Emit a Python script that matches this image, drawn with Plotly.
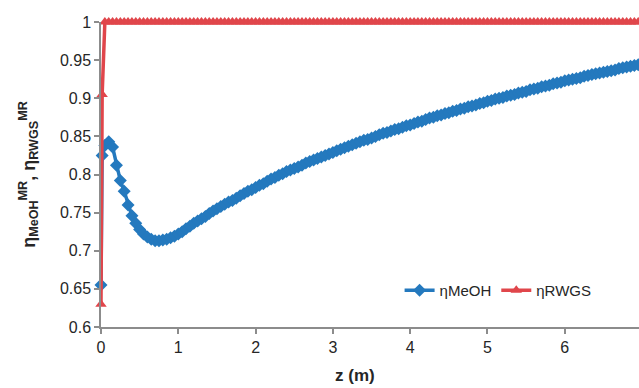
import plotly.graph_objects as go

# ---- data ----
z_m = [0, 0.015, 0.05, 0.10, 0.15, 0.20, 0.25, 0.30, 0.35, 0.40, 0.45,
       0.50, 0.55, 0.60, 0.65, 0.70, 0.75, 0.80, 0.85, 0.90, 0.95,
       1.00, 1.05, 1.10, 1.15, 1.20, 1.25, 1.30, 1.35, 1.40, 1.45,
       1.50, 1.55, 1.60, 1.65, 1.70, 1.75, 1.80, 1.85, 1.90, 1.95,
       2.00, 2.05, 2.10, 2.15, 2.20, 2.25, 2.30, 2.35, 2.40, 2.45,
       2.50, 2.55, 2.60, 2.65, 2.70, 2.75, 2.80, 2.85, 2.90, 2.95,
       3.00, 3.05, 3.10, 3.15, 3.20, 3.25, 3.30, 3.35, 3.40, 3.45,
       3.50, 3.55, 3.60, 3.65, 3.70, 3.75, 3.80, 3.85, 3.90, 3.95,
       4.00, 4.05, 4.10, 4.15, 4.20, 4.25, 4.30, 4.35, 4.40, 4.45,
       4.50, 4.55, 4.60, 4.65, 4.70, 4.75, 4.80, 4.85, 4.90, 4.95,
       5.00, 5.05, 5.10, 5.15, 5.20, 5.25, 5.30, 5.35, 5.40, 5.45,
       5.50, 5.55, 5.60, 5.65, 5.70, 5.75, 5.80, 5.85, 5.90, 5.95,
       6.00, 6.05, 6.10, 6.15, 6.20, 6.25, 6.30, 6.35, 6.40, 6.45,
       6.50, 6.55, 6.60, 6.65, 6.70, 6.75, 6.80, 6.85, 6.90, 6.95]

eta_meoh = [0.655, 0.825, 0.838, 0.843, 0.836, 0.812, 0.792, 0.778, 0.760, 0.746, 0.736,
            0.728, 0.722, 0.718, 0.715, 0.713, 0.713, 0.714, 0.715, 0.717, 0.719,
            0.722, 0.725, 0.729, 0.732, 0.736, 0.739, 0.742, 0.745, 0.749, 0.752,
            0.755, 0.758, 0.761, 0.764, 0.766, 0.769, 0.772, 0.775, 0.778, 0.780,
            0.783, 0.786, 0.788, 0.791, 0.794, 0.796, 0.799, 0.801, 0.804, 0.806,
            0.808, 0.810, 0.812, 0.815, 0.817, 0.819, 0.821, 0.823, 0.825, 0.827,
            0.829, 0.831, 0.833, 0.835, 0.837, 0.839, 0.841, 0.843, 0.845, 0.846,
            0.848, 0.850, 0.852, 0.854, 0.855, 0.857, 0.859, 0.860, 0.862, 0.864,
            0.865, 0.867, 0.869, 0.870, 0.872, 0.874, 0.875, 0.877, 0.878, 0.880,
            0.881, 0.883, 0.884, 0.886, 0.887, 0.889, 0.890, 0.891, 0.893, 0.894,
            0.896, 0.897, 0.899, 0.900, 0.901, 0.903, 0.904, 0.905, 0.907, 0.908,
            0.909, 0.911, 0.912, 0.913, 0.915, 0.916, 0.917, 0.919, 0.920, 0.921,
            0.923, 0.924, 0.925, 0.926, 0.927, 0.929, 0.930, 0.931, 0.932, 0.933,
            0.934, 0.935, 0.936, 0.937, 0.939, 0.940, 0.941, 0.942, 0.943, 0.944]

eta_rwgs = [0.630, 0.905, 1.0, 1.0, 1.0, 1.0, 1.0, 1.0, 1.0, 1.0, 1.0,
            1.0, 1.0, 1.0, 1.0, 1.0, 1.0, 1.0, 1.0, 1.0, 1.0,
            1.0, 1.0, 1.0, 1.0, 1.0, 1.0, 1.0, 1.0, 1.0, 1.0,
            1.0, 1.0, 1.0, 1.0, 1.0, 1.0, 1.0, 1.0, 1.0, 1.0,
            1.0, 1.0, 1.0, 1.0, 1.0, 1.0, 1.0, 1.0, 1.0, 1.0,
            1.0, 1.0, 1.0, 1.0, 1.0, 1.0, 1.0, 1.0, 1.0, 1.0,
            1.0, 1.0, 1.0, 1.0, 1.0, 1.0, 1.0, 1.0, 1.0, 1.0,
            1.0, 1.0, 1.0, 1.0, 1.0, 1.0, 1.0, 1.0, 1.0, 1.0,
            1.0, 1.0, 1.0, 1.0, 1.0, 1.0, 1.0, 1.0, 1.0, 1.0,
            1.0, 1.0, 1.0, 1.0, 1.0, 1.0, 1.0, 1.0, 1.0, 1.0,
            1.0, 1.0, 1.0, 1.0, 1.0, 1.0, 1.0, 1.0, 1.0, 1.0,
            1.0, 1.0, 1.0, 1.0, 1.0, 1.0, 1.0, 1.0, 1.0, 1.0,
            1.0, 1.0, 1.0, 1.0, 1.0, 1.0, 1.0, 1.0, 1.0, 1.0,
            1.0, 1.0, 1.0, 1.0, 1.0, 1.0, 1.0, 1.0, 1.0, 1.0]

x_tick_vals = [0, 1, 2, 3, 4, 5, 6, 7]
x_tick_text = ["0", "1", "2", "3", "4", "5", "6", "7"]
y_tick_vals = [0.6, 0.65, 0.7, 0.75, 0.8, 0.85, 0.9, 0.95, 1.0]
y_tick_text = ["0.6", "0.65", "0.7", "0.75", "0.8", "0.85", "0.9", "0.95", "1"]

BLUE = "#2479BE"
RED = "#E0464B"
AXIS = "#8C8C8C"
TXT = "#262626"
FONT = "Liberation Sans, Arial, sans-serif"

fig = go.Figure()
fig.add_trace(go.Scatter(
    x=z_m, y=eta_meoh, name="ηMeOH", mode="lines+markers",
    line=dict(color=BLUE, width=3.5),
    marker=dict(symbol="diamond", size=10, color=BLUE),
    cliponaxis=False,
))
fig.add_trace(go.Scatter(
    x=z_m, y=eta_rwgs, name="ηRWGS", mode="lines+markers",
    line=dict(color=RED, width=3.5),
    marker=dict(symbol="triangle-up", size=10, color=RED),
    cliponaxis=False,
))

fig.update_layout(
    width=639, height=388,
    margin=dict(l=101, r=0, t=22, b=61, autoexpand=False),
    paper_bgcolor="white", plot_bgcolor="white",
    font=dict(family=FONT, size=16, color=TXT),
    showlegend=True,
    legend=dict(orientation="h", x=0.555, y=0.12, xanchor="left", yanchor="middle",
                font=dict(size=15, color=TXT), bgcolor="rgba(0,0,0,0)",
                itemwidth=30, tracegroupgap=0),
    xaxis=dict(range=[0, 6.96], tickvals=x_tick_vals, ticktext=x_tick_text,
               automargin=False,
               showgrid=False, zeroline=False, showline=True, linecolor=AXIS, linewidth=1.5,
               ticks="outside", ticklen=5, tickcolor=AXIS, tickwidth=1.5,
               tickfont=dict(size=16, color=TXT)),
    yaxis=dict(range=[0.6, 1.0], tickvals=y_tick_vals, ticktext=y_tick_text,
               automargin=False,
               showgrid=False, zeroline=False, showline=True, linecolor=AXIS, linewidth=1.5,
               ticks="outside", ticklen=5, tickcolor=AXIS, tickwidth=1.5,
               tickfont=dict(size=16, color=TXT),
               title=dict(text="<b>η<sub>MeOH</sub><sup>MR</sup>, η<sub>RWGS</sub><sup>MR</sup></b>",
                          font=dict(size=18, color=TXT), standoff=20)),
)

fig.add_annotation(text="<b>z (m)</b>", xref="paper", yref="paper",
                   x=0.472, y=-0.158, xanchor="center", yanchor="middle",
                   showarrow=False, font=dict(size=17, color=TXT))

fig.write_html("out.html", config={"displayModeBar": False},
               post_script="document.body.style.margin='0px';document.body.style.overflow='hidden';")
